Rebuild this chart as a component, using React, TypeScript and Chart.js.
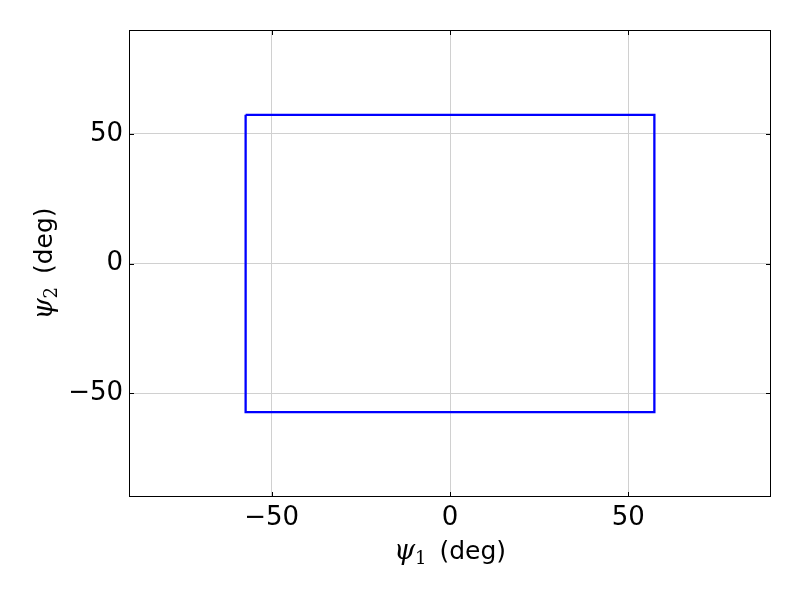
import React, { useEffect, useRef } from "react";
import { Chart, registerables } from "chart.js";

Chart.register(...registerables);

const pathX = [-57.3, 57.3, 57.3, -57.3, -57.3];
const pathY = [57.3, 57.3, -57.3, -57.3, 57.3];
const tickValues = [-50, 0, 50];
const xTitleVar = "ψ";
const xTitleSub = "1";
const yTitleSub = "2";
const titleUnit = " (deg)";

const AREA = { left: 129, top: 30, right: 771, bottom: 497 };

function drawTitle(ctx: CanvasRenderingContext2D, sub: string) {
  const varFont = "italic 27px 'DejaVu Serif'";
  const subFont = "18px 'DejaVu Serif'";
  const unitFont = "25px 'DejaVu Sans'";
  ctx.font = varFont;
  const w1 = ctx.measureText(xTitleVar).width;
  ctx.font = subFont;
  const w2 = ctx.measureText(sub).width;
  ctx.font = unitFont;
  const w3 = ctx.measureText(titleUnit).width;
  const total = w1 + w2 + 5 + w3;
  let x = -total / 2;
  ctx.textBaseline = "alphabetic";
  ctx.textAlign = "left";
  ctx.fillStyle = "#000";
  ctx.font = varFont;
  ctx.fillText(xTitleVar, x, 8);
  x += w1;
  ctx.font = subFont;
  ctx.fillText(sub, x, 13);
  x += w2 + 5;
  ctx.font = unitFont;
  ctx.fillText(titleUnit, x, 8);
}

const framePlugin = {
  id: "frame",
  afterDraw(chart: any) {
    const ctx = chart.ctx as CanvasRenderingContext2D;
    const { left, top, right, bottom } = chart.chartArea;
    const xs = chart.scales.x;
    const ys = chart.scales.y;
    ctx.save();
    ctx.strokeStyle = "#000";
    ctx.lineWidth = 1;
    ctx.beginPath();
    for (const v of tickValues) {
      const px = Math.round(xs.getPixelForValue(v)) + 0.5;
      ctx.moveTo(px, bottom);
      ctx.lineTo(px, bottom - 5);
      ctx.moveTo(px, top);
      ctx.lineTo(px, top + 5);
      const py = Math.round(ys.getPixelForValue(v)) + 0.5;
      ctx.moveTo(left, py);
      ctx.lineTo(left + 5, py);
      ctx.moveTo(right, py);
      ctx.lineTo(right - 5, py);
    }
    ctx.stroke();
    ctx.strokeRect(left + 0.5, top + 0.5, right - left - 1, bottom - top - 1);
    ctx.save();
    ctx.translate((left + right) / 2, 551);
    drawTitle(ctx, xTitleSub);
    ctx.restore();
    ctx.save();
    ctx.translate(44, (top + bottom) / 2);
    ctx.rotate(-Math.PI / 2);
    drawTitle(ctx, yTitleSub);
    ctx.restore();
    ctx.restore();
  },
};

export default function App() {
  const ref = useRef<HTMLCanvasElement | null>(null);
  useEffect(() => {
    if (!ref.current) return;
    const data = pathX.map((x, i) => ({ x, y: pathY[i] }));
    const chart = new Chart(ref.current, {
      type: "scatter",
      data: {
        datasets: [
          {
            data,
            showLine: true,
            borderColor: "#0000ff",
            borderWidth: 2.3,
            pointRadius: 0,
            fill: false,
            tension: 0,
          },
        ],
      },
      options: {
        animation: false,
        responsive: false,
        events: [],
        layout: {
          padding: { left: 0, top: AREA.top, right: 800 - AREA.right, bottom: 0 },
        },
        plugins: { legend: { display: false }, tooltip: { enabled: false } },
        scales: {
          x: {
            type: "linear",
            min: -90,
            max: 90,
            afterBuildTicks: (s: any) => {
              s.ticks = tickValues.map((v) => ({ value: v }));
            },
            afterFit: (s: any) => {
              s.height = 600 - AREA.bottom;
            },
            grid: { color: "#d0d0d0", lineWidth: 1, drawTicks: false },
            border: { display: false },
            ticks: {
              color: "#000",
              font: { family: "'DejaVu Sans'", size: 26 },
              padding: 6,
              maxRotation: 0,
              callback: (v: any) => (Number(v) < 0 ? "\u2212" + Math.abs(Number(v)) : String(v)),
            },
          },
          y: {
            type: "linear",
            min: -90,
            max: 90,
            afterBuildTicks: (s: any) => {
              s.ticks = tickValues.map((v) => ({ value: v }));
            },
            afterFit: (s: any) => {
              s.width = AREA.left;
            },
            grid: { color: "#d0d0d0", lineWidth: 1, drawTicks: false },
            border: { display: false },
            ticks: {
              color: "#000",
              font: { family: "'DejaVu Sans'", size: 26 },
              padding: 6,
              callback: (v: any) => (Number(v) < 0 ? "\u2212" + Math.abs(Number(v)) : String(v)),
            },
          },
        },
      },
      plugins: [framePlugin],
    });
    return () => chart.destroy();
  }, []);
  return (
    <div style={{ position: "absolute", left: 0, top: 0, width: 800, height: 600, background: "#fff" }}>
      <canvas ref={ref} width={800} height={600} style={{ width: 800, height: 600 }} />
    </div>
  );
}
